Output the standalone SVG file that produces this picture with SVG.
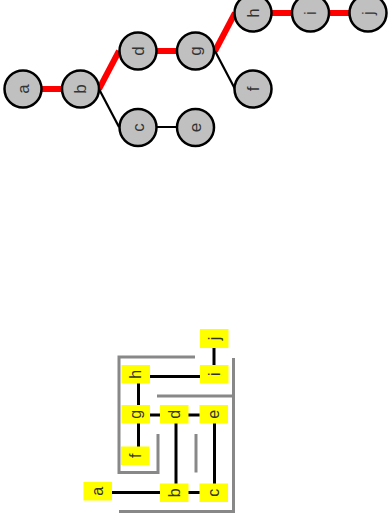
<svg xmlns="http://www.w3.org/2000/svg" width="390" height="526" viewBox="0 0 390 526">
<style>
.bg{fill:#ffffff}
.red{stroke:#ff0000;stroke-width:6;fill:none}
.blk{stroke:#000000;stroke-width:2.2;fill:none}
.blk3{stroke:#000000;stroke-width:3;fill:none}
.gray{stroke:#888888;stroke-width:3;fill:none}
.circ{fill:#c0c0c0;stroke:#000000;stroke-width:2.5}
.box{fill:#ffff00}
.lbl{font-family:"Liberation Sans",Arial,sans-serif;font-size:16px;fill:#333333;text-anchor:middle;dominant-baseline:central}
.tl{font-size:17px}
</style>
<rect class="bg" x="0" y="0" width="390" height="526"/>
<g id="tree-edges">
<line class="red" x1="23" y1="89" x2="80" y2="89"/>
<line class="red" x1="99" y1="89" x2="119" y2="51"/>
<line class="red" x1="138" y1="51" x2="196" y2="51"/>
<line class="red" x1="215" y1="51" x2="235" y2="13"/>
<line class="red" x1="253" y1="13" x2="369" y2="13"/>
<line class="blk" x1="99" y1="89" x2="119" y2="127"/>
<line class="blk" x1="138" y1="127" x2="196" y2="127"/>
<line class="blk" x1="215" y1="51" x2="235" y2="89"/>
</g>
<g id="t-a"><circle class="circ" cx="23" cy="89" r="18.5"/><text class="lbl tl" transform="translate(23,89) rotate(-90)">a</text></g>
<g id="t-b"><circle class="circ" cx="80.5" cy="89" r="18.5"/><text class="lbl tl" transform="translate(80.5,89) rotate(-90)">b</text></g>
<g id="t-d"><circle class="circ" cx="138" cy="51" r="18.5"/><text class="lbl tl" transform="translate(138,51) rotate(-90)">d</text></g>
<g id="t-g"><circle class="circ" cx="195.5" cy="51" r="18.5"/><text class="lbl tl" transform="translate(195.5,51) rotate(-90)">g</text></g>
<g id="t-h"><circle class="circ" cx="253" cy="13" r="18.5"/><text class="lbl tl" transform="translate(253,13) rotate(-90)">h</text></g>
<g id="t-i"><circle class="circ" cx="310.5" cy="13" r="18.5"/><text class="lbl tl" transform="translate(310.5,13) rotate(-90)">i</text></g>
<g id="t-j"><circle class="circ" cx="368" cy="13" r="18.5"/><text class="lbl tl" transform="translate(368,13) rotate(-90)">j</text></g>
<g id="t-f"><circle class="circ" cx="253" cy="89" r="18.5"/><text class="lbl tl" transform="translate(253,89) rotate(-90)">f</text></g>
<g id="t-c"><circle class="circ" cx="138" cy="127.5" r="18.5"/><text class="lbl tl" transform="translate(138,127.5) rotate(-90)">c</text></g>
<g id="t-e"><circle class="circ" cx="195.5" cy="127.5" r="18.5"/><text class="lbl tl" transform="translate(195.5,127.5) rotate(-90)">e</text></g>

<g id="layout-connectors">
<path class="gray" d="M195,357 H119 V472.5 H158 V434"/>
<path class="gray" d="M233.5,358 V511.5 H119"/>
<path class="gray" d="M157,396 H233.5"/>
<path class="gray" d="M196,434 V472.5"/>
<line class="blk3" x1="214" y1="347" x2="214" y2="366"/>
<line class="blk3" x1="150" y1="376.5" x2="200" y2="376.5"/>
<line class="blk3" x1="138.5" y1="383" x2="138.5" y2="405"/>
<line class="blk3" x1="150" y1="415" x2="160" y2="415"/>
<line class="blk3" x1="188" y1="415" x2="200" y2="415"/>
<line class="blk3" x1="138.5" y1="423" x2="138.5" y2="447"/>
<line class="blk3" x1="176" y1="423" x2="176" y2="484"/>
<line class="blk3" x1="214.5" y1="423" x2="214.5" y2="484"/>
<line class="blk3" x1="112" y1="492.5" x2="160" y2="492.5"/>
<line class="blk3" x1="188" y1="492.5" x2="200" y2="492.5"/>
</g>
<g id="l-j"><rect class="box" x="200" y="329" width="28.5" height="19"/><text class="lbl" transform="translate(214.2,338.5) rotate(-90)">j</text></g>
<g id="l-i"><rect class="box" x="200" y="365" width="28.5" height="18.5"/><text class="lbl" transform="translate(214.2,374.2) rotate(-90)">i</text></g>
<g id="l-h"><rect class="box" x="121.5" y="365" width="28.5" height="18.5"/><text class="lbl" transform="translate(135.7,374.2) rotate(-90)">h</text></g>
<g id="l-g"><rect class="box" x="121.5" y="405" width="28.5" height="18.5"/><text class="lbl" transform="translate(135.7,414.2) rotate(-90)">g</text></g>
<g id="l-d"><rect class="box" x="160" y="405" width="28.5" height="18.5"/><text class="lbl" transform="translate(174.2,414.2) rotate(-90)">d</text></g>
<g id="l-e"><rect class="box" x="199.5" y="405" width="28.5" height="18.5"/><text class="lbl" transform="translate(213.7,414.2) rotate(-90)">e</text></g>
<g id="l-f"><rect class="box" x="121" y="446.5" width="28.5" height="18.5"/><text class="lbl" transform="translate(135.2,455.7) rotate(-90)">f</text></g>
<g id="l-a"><rect class="box" x="83.5" y="482" width="28.5" height="18.5"/><text class="lbl" transform="translate(97.7,491.2) rotate(-90)">a</text></g>
<g id="l-b"><rect class="box" x="160" y="483.5" width="28.5" height="18.5"/><text class="lbl" transform="translate(174.2,492.7) rotate(-90)">b</text></g>
<g id="l-c"><rect class="box" x="199.5" y="483.5" width="28.5" height="18.5"/><text class="lbl" transform="translate(213.7,492.7) rotate(-90)">c</text></g>
</svg>
